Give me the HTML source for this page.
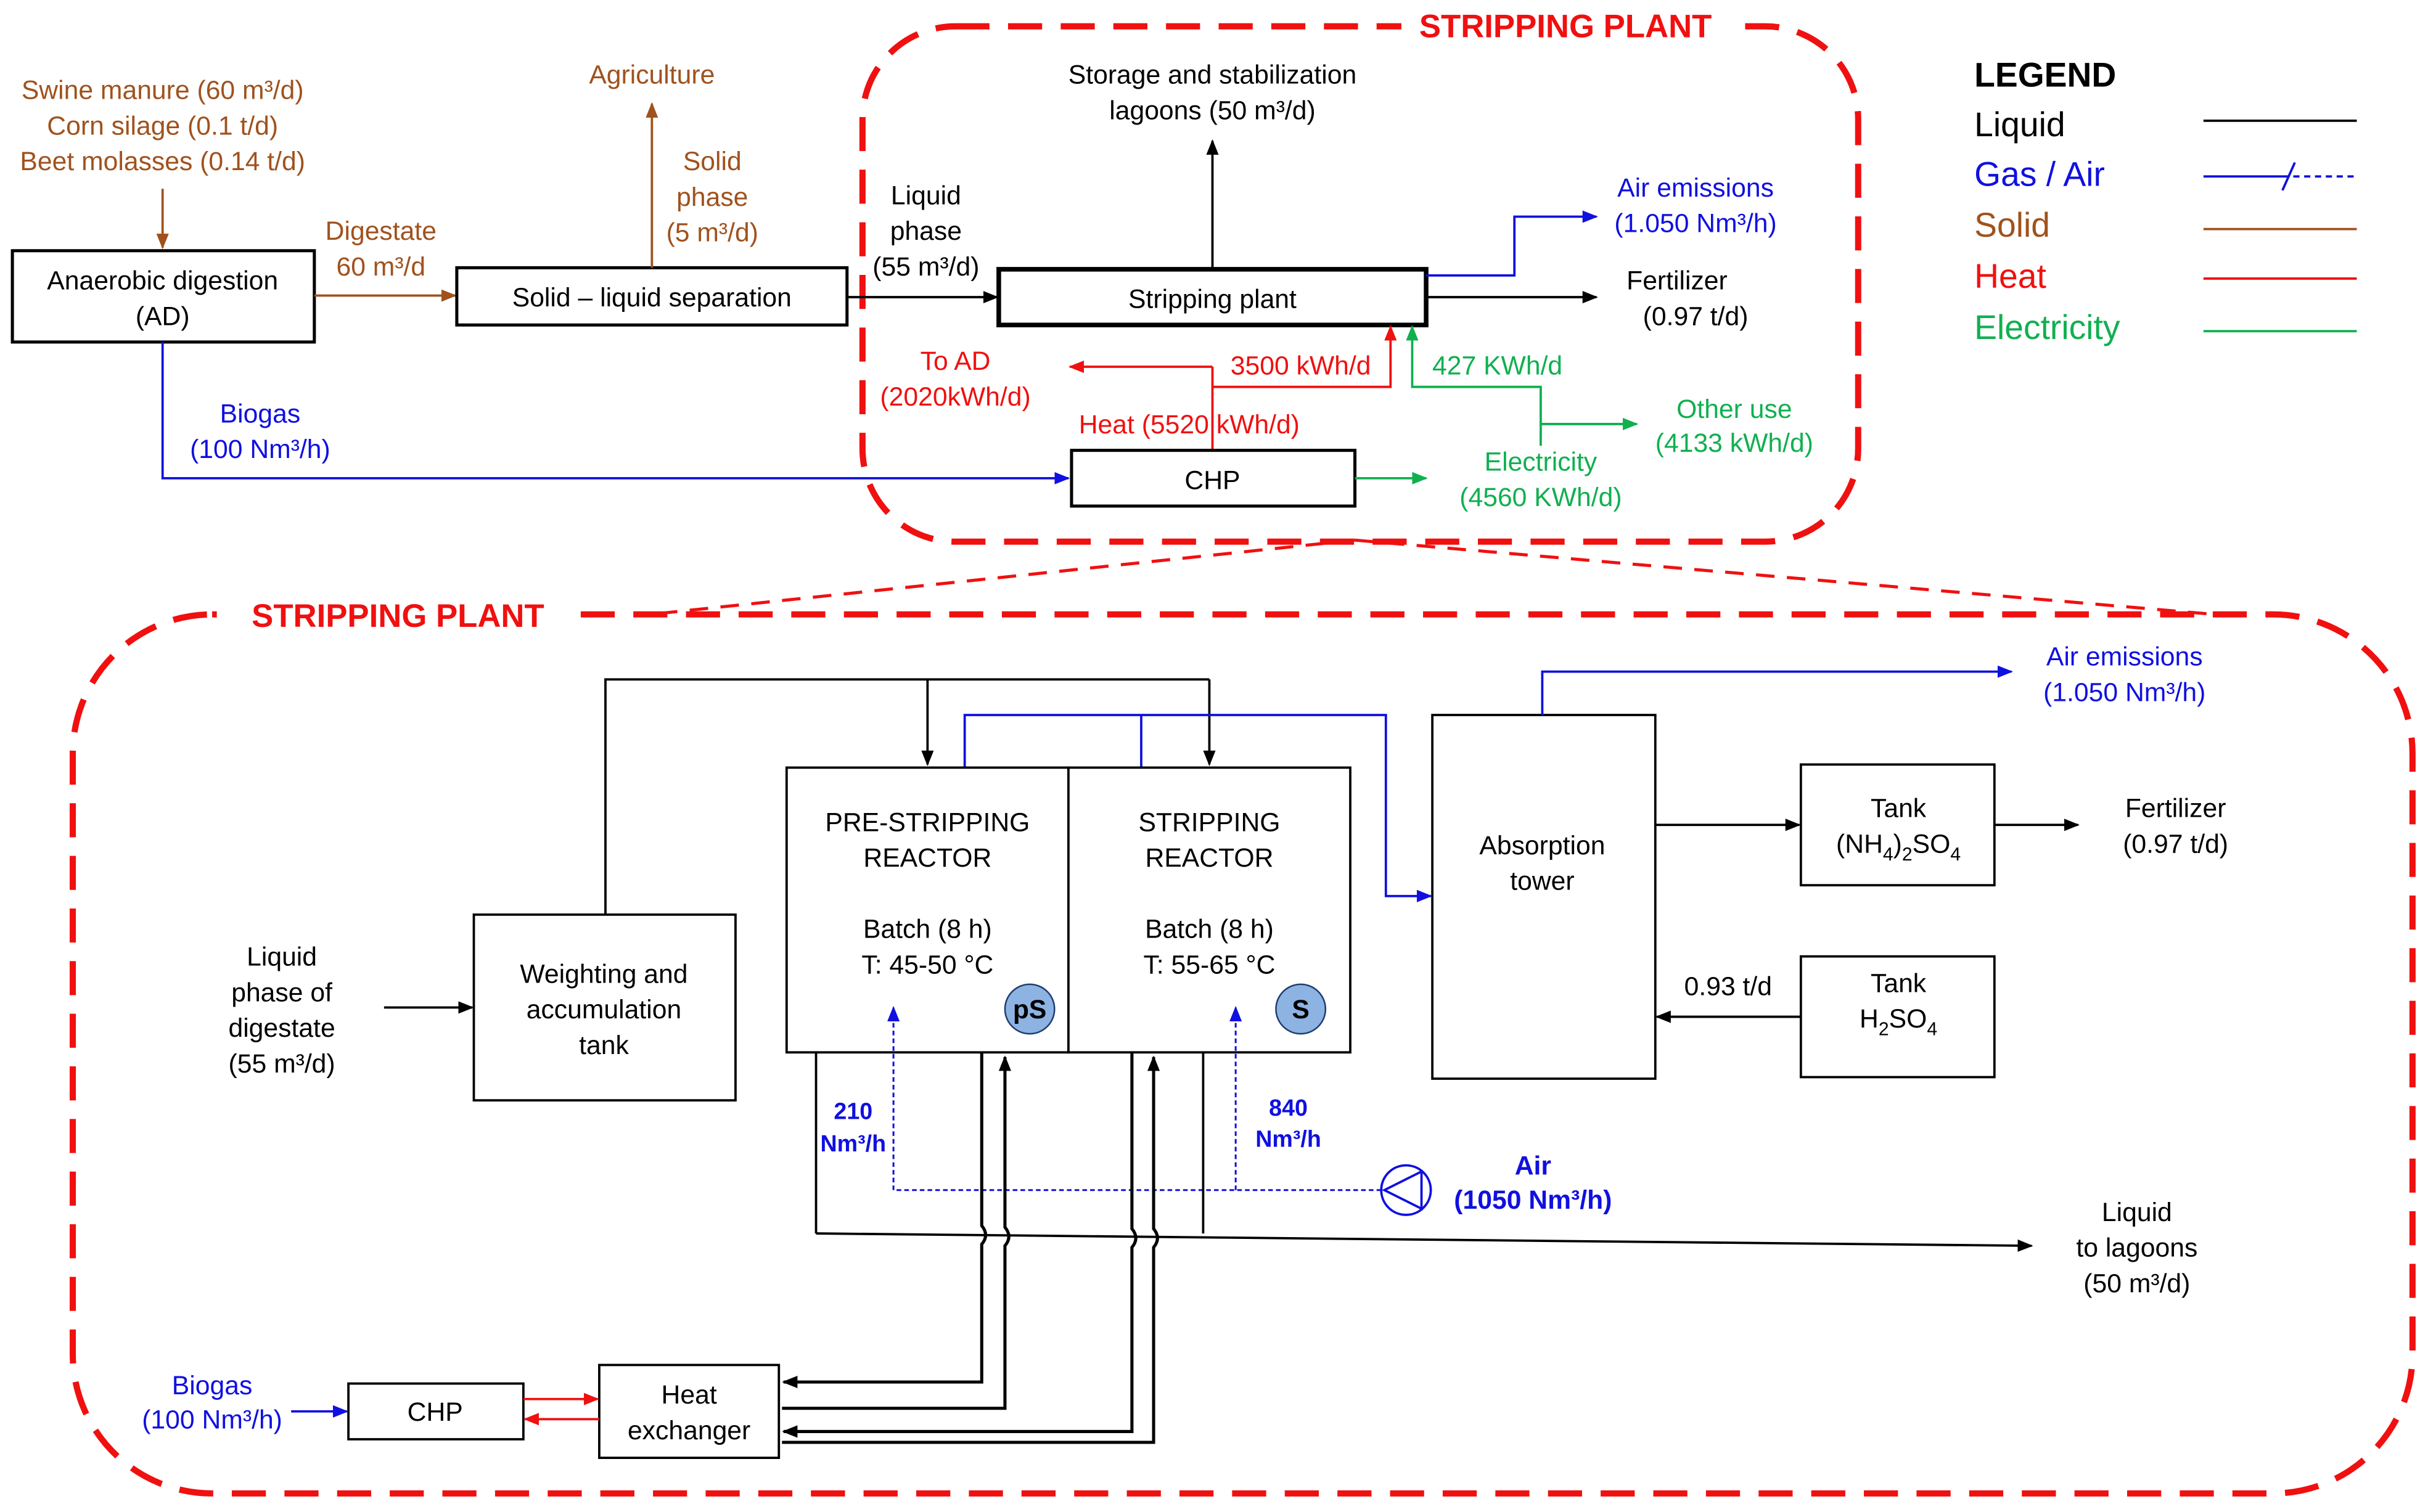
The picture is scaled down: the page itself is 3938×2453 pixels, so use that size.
<!DOCTYPE html>
<html><head><meta charset="utf-8"><style>
html,body{margin:0;padding:0;background:#fff;}
svg{display:block;}
text{font-family:"Liberation Sans",Arial,sans-serif;font-size:17px;text-anchor:middle;}
.br{fill:#a0521d}.bl{fill:#1010e0}.rd{fill:#f01010}.gr{fill:#10b050}
</style></head><body>
<svg width="3938" height="2453" viewBox="0 0 1568 977" preserveAspectRatio="none" xmlns="http://www.w3.org/2000/svg">
<defs>
<marker id="ak" markerWidth="10" markerHeight="10" refX="9" refY="5" orient="auto" markerUnits="userSpaceOnUse"><path d="M0,1 L10,5 L0,9z" fill="#000"/></marker>
<marker id="ab" markerWidth="10" markerHeight="10" refX="9" refY="5" orient="auto" markerUnits="userSpaceOnUse"><path d="M0,1 L10,5 L0,9z" fill="#1010e0"/></marker>
<marker id="an" markerWidth="10" markerHeight="10" refX="9" refY="5" orient="auto" markerUnits="userSpaceOnUse"><path d="M0,1 L10,5 L0,9z" fill="#a0521d"/></marker>
<marker id="ar" markerWidth="10" markerHeight="10" refX="9" refY="5" orient="auto" markerUnits="userSpaceOnUse"><path d="M0,1 L10,5 L0,9z" fill="#f01010"/></marker>
<marker id="ag" markerWidth="10" markerHeight="10" refX="9" refY="5" orient="auto" markerUnits="userSpaceOnUse"><path d="M0,1 L10,5 L0,9z" fill="#10b050"/></marker>
</defs>
<rect width="1568" height="977" fill="#fff"/>

<rect x="557" y="17" width="643" height="333" rx="60" fill="none" stroke="#f01010" stroke-width="4" stroke-dasharray="22,12"/>
<rect x="47" y="397" width="1511" height="568" rx="90" fill="none" stroke="#f01010" stroke-width="4" stroke-dasharray="22,12"/>
<line x1="875" y1="349" x2="420" y2="397" stroke="#f01010" stroke-width="2" stroke-dasharray="12,8"/>
<line x1="875" y1="349" x2="1430" y2="397" stroke="#f01010" stroke-width="2" stroke-dasharray="12,8"/>
<rect x="905" y="4" width="215" height="26" fill="#fff"/>
<text x="1011" y="24" style="font-weight:bold;font-size:21px" class="rd">STRIPPING PLANT</text>
<rect x="140" y="384" width="235" height="28" fill="#fff"/>
<text x="257" y="405" style="font-weight:bold;font-size:21px" class="rd">STRIPPING PLANT</text>

<text x="105" y="64" class="br">Swine manure (60 m³/d)</text>
<text x="105" y="87" class="br">Corn silage (0.1 t/d)</text>
<text x="105" y="110" class="br">Beet molasses (0.14 t/d)</text>
<line x1="105" y1="122" x2="105" y2="160" stroke="#a0521d" stroke-width="1.5" marker-end="url(#an)"/>
<rect x="8" y="162" width="195" height="59" fill="#fff" stroke="#000" stroke-width="2"/>
<text x="105" y="187">Anaerobic digestion</text>
<text x="105" y="210">(AD)</text>
<text x="246" y="155" class="br">Digestate</text>
<text x="246" y="178" class="br">60 m³/d</text>
<line x1="203" y1="191" x2="294" y2="191" stroke="#a0521d" stroke-width="1.5" marker-end="url(#an)"/>
<rect x="295" y="173" width="252" height="37" fill="#fff" stroke="#000" stroke-width="2"/>
<text x="421" y="198">Solid – liquid separation</text>
<line x1="421" y1="173" x2="421" y2="67" stroke="#a0521d" stroke-width="1.5" marker-end="url(#an)"/>
<text x="421" y="54" class="br">Agriculture</text>
<text x="460" y="110" class="br">Solid</text>
<text x="460" y="133" class="br">phase</text>
<text x="460" y="156" class="br">(5 m³/d)</text>
<text x="598" y="132">Liquid</text>
<text x="598" y="155">phase</text>
<text x="598" y="178">(55 m³/d)</text>
<line x1="547" y1="192" x2="644" y2="192" stroke="#000" stroke-width="1.5" marker-end="url(#ak)"/>
<rect x="645" y="174" width="276" height="36" fill="#fff" stroke="#000" stroke-width="3"/>
<text x="783" y="199">Stripping plant</text>
<line x1="783" y1="174" x2="783" y2="91" stroke="#000" stroke-width="1.5" marker-end="url(#ak)"/>
<text x="783" y="54">Storage and stabilization</text>
<text x="783" y="77">lagoons (50 m³/d)</text>
<polyline points="921,178 978,178 978,140 1031,140" fill="none" stroke="#1010e0" stroke-width="1.5" marker-end="url(#ab)"/>
<text x="1095" y="127" class="bl">Air emissions</text>
<text x="1095" y="150" class="bl">(1.050 Nm³/h)</text>
<line x1="921" y1="192" x2="1031" y2="192" stroke="#000" stroke-width="1.5" marker-end="url(#ak)"/>
<text x="1083" y="187">Fertilizer</text>
<text x="1095" y="210">(0.97 t/d)</text>
<line x1="783" y1="291" x2="783" y2="237" stroke="#f01010" stroke-width="1.5"/>
<line x1="783" y1="237" x2="691" y2="237" stroke="#f01010" stroke-width="1.5" marker-end="url(#ar)"/>
<polyline points="783,250 898,250 898,211" fill="none" stroke="#f01010" stroke-width="1.5" marker-end="url(#ar)"/>
<text x="840" y="242" class="rd">3500 kWh/d</text>
<text x="617" y="239" class="rd">To AD</text>
<text x="617" y="262" class="rd">(2020kWh/d)</text>
<text x="768" y="280" class="rd">Heat (5520 kWh/d)</text>
<rect x="692" y="291" width="183" height="36" fill="#fff" stroke="#000" stroke-width="2"/>
<text x="783" y="316">CHP</text>
<line x1="875" y1="309" x2="921" y2="309" stroke="#10b050" stroke-width="1.5" marker-end="url(#ag)"/>
<polyline points="995,288 995,250 912,250 912,211" fill="none" stroke="#10b050" stroke-width="1.5" marker-end="url(#ag)"/>
<line x1="995" y1="274" x2="1057" y2="274" stroke="#10b050" stroke-width="1.5" marker-end="url(#ag)"/>
<text x="967" y="242" class="gr">427 KWh/d</text>
<text x="1120" y="270" class="gr">Other use</text>
<text x="1120" y="292" class="gr">(4133 kWh/d)</text>
<text x="995" y="304" class="gr">Electricity</text>
<text x="995" y="327" class="gr">(4560 KWh/d)</text>
<polyline points="105,221 105,309 690,309" fill="none" stroke="#1010e0" stroke-width="1.5" marker-end="url(#ab)"/>
<text x="168" y="273" class="bl">Biogas</text>
<text x="168" y="296" class="bl">(100 Nm³/h)</text>

<text x="1275" y="56" style="text-anchor:start;font-weight:bold;font-size:22px">LEGEND</text>
<text x="1275" y="88" style="text-anchor:start;font-size:22px">Liquid</text>
<text x="1275" y="120" style="text-anchor:start;font-size:22px" class="bl">Gas / Air</text>
<text x="1275" y="153" style="text-anchor:start;font-size:22px" class="br">Solid</text>
<text x="1275" y="186" style="text-anchor:start;font-size:22px" class="rd">Heat</text>
<text x="1275" y="219" style="text-anchor:start;font-size:22px" class="gr">Electricity</text>
<line x1="1423" y1="78" x2="1522" y2="78" stroke="#000" stroke-width="1.5"/>
<line x1="1423" y1="114" x2="1474" y2="114" stroke="#1010e0" stroke-width="1.5"/>
<line x1="1474" y1="114" x2="1522" y2="114" stroke="#1010e0" stroke-width="1.5" stroke-dasharray="4,3"/>
<line x1="1474" y1="123" x2="1482" y2="105" stroke="#1010e0" stroke-width="1.5"/>
<line x1="1423" y1="148" x2="1522" y2="148" stroke="#a0521d" stroke-width="1.5"/>
<line x1="1423" y1="180" x2="1522" y2="180" stroke="#f01010" stroke-width="1.5"/>
<line x1="1423" y1="214" x2="1522" y2="214" stroke="#10b050" stroke-width="1.5"/>

<text x="182" y="624">Liquid</text>
<text x="182" y="647">phase of</text>
<text x="182" y="670">digestate</text>
<text x="182" y="693">(55 m³/d)</text>
<line x1="248" y1="651" x2="305" y2="651" stroke="#000" stroke-width="1.5" marker-end="url(#ak)"/>
<rect x="306" y="591" width="169" height="120" fill="#fff" stroke="#000" stroke-width="1.5"/>
<text x="390" y="635">Weighting and</text>
<text x="390" y="658">accumulation</text>
<text x="390" y="681">tank</text>
<polyline points="391,591 391,439 781,439" fill="none" stroke="#000" stroke-width="1.5"/>
<line x1="599" y1="439" x2="599" y2="494" stroke="#000" stroke-width="1.5" marker-end="url(#ak)"/>
<line x1="781" y1="439" x2="781" y2="494" stroke="#000" stroke-width="1.5" marker-end="url(#ak)"/>
<polyline points="623,496 623,462 895,462 895,579 924,579" fill="none" stroke="#1010e0" stroke-width="1.5" marker-end="url(#ab)"/>
<line x1="737" y1="496" x2="737" y2="462" stroke="#1010e0" stroke-width="1.5"/>
<rect x="508" y="496" width="182" height="184" fill="#fff" stroke="#000" stroke-width="1.5"/>
<rect x="690" y="496" width="182" height="184" fill="#fff" stroke="#000" stroke-width="1.5"/>
<text x="599" y="537">PRE-STRIPPING</text>
<text x="599" y="560">REACTOR</text>
<text x="599" y="606">Batch (8 h)</text>
<text x="599" y="629">T: 45-50 °C</text>
<text x="781" y="537">STRIPPING</text>
<text x="781" y="560">REACTOR</text>
<text x="781" y="606">Batch (8 h)</text>
<text x="781" y="629">T: 55-65 °C</text>
<circle cx="665" cy="652" r="16" fill="#8db3e2" stroke="#1f3c70" stroke-width="1"/>
<text x="665" y="658" style="font-weight:bold">pS</text>
<circle cx="840" cy="652" r="16" fill="#8db3e2" stroke="#1f3c70" stroke-width="1"/>
<text x="840" y="658" style="font-weight:bold">S</text>
<rect x="925" y="462" width="144" height="235" fill="#fff" stroke="#000" stroke-width="1.5"/>
<text x="996" y="552">Absorption</text>
<text x="996" y="575">tower</text>
<polyline points="996,462 996,434 1299,434" fill="none" stroke="#1010e0" stroke-width="1.5" marker-end="url(#ab)"/>
<text x="1372" y="430" class="bl">Air emissions</text>
<text x="1372" y="453" class="bl">(1.050 Nm³/h)</text>
<line x1="1069" y1="533" x2="1162" y2="533" stroke="#000" stroke-width="1.5" marker-end="url(#ak)"/>
<rect x="1163" y="494" width="125" height="78" fill="#fff" stroke="#000" stroke-width="1.5"/>
<text x="1226" y="528">Tank</text>
<text x="1226" y="551">(NH<tspan font-size="12" dy="5">4</tspan><tspan dy="-5">)</tspan><tspan font-size="12" dy="5">2</tspan><tspan dy="-5">SO</tspan><tspan font-size="12" dy="5">4</tspan></text>
<line x1="1288" y1="533" x2="1342" y2="533" stroke="#000" stroke-width="1.5" marker-end="url(#ak)"/>
<text x="1405" y="528">Fertilizer</text>
<text x="1405" y="551">(0.97 t/d)</text>
<rect x="1163" y="618" width="125" height="78" fill="#fff" stroke="#000" stroke-width="1.5"/>
<text x="1226" y="641">Tank</text>
<text x="1226" y="664">H<tspan font-size="12" dy="5">2</tspan><tspan dy="-5">SO</tspan><tspan font-size="12" dy="5">4</tspan></text>
<line x1="1163" y1="657" x2="1070" y2="657" stroke="#000" stroke-width="1.5" marker-end="url(#ak)"/>
<text x="1116" y="643">0.93 t/d</text>

<circle cx="908" cy="769" r="16" fill="#fff" stroke="#1010e0" stroke-width="1.5"/>
<path d="M894,769 L918,757 L918,781 z" fill="none" stroke="#1010e0" stroke-width="1.5"/>
<polyline points="892,769 577,769 577,651" fill="none" stroke="#1010e0" stroke-width="1.2" stroke-dasharray="3,2" marker-end="url(#ab)"/>
<line x1="798" y1="769" x2="798" y2="651" stroke="#1010e0" stroke-width="1.2" stroke-dasharray="3,2" marker-end="url(#ab)"/>
<text x="551" y="723" class="bl" style="font-weight:bold;font-size:15px">210</text>
<text x="551" y="744" class="bl" style="font-weight:bold;font-size:15px">Nm³/h</text>
<text x="832" y="721" class="bl" style="font-weight:bold;font-size:15px">840</text>
<text x="832" y="741" class="bl" style="font-weight:bold;font-size:15px">Nm³/h</text>
<text x="990" y="759" class="bl" style="font-weight:bold">Air</text>
<text x="990" y="781" class="bl" style="font-weight:bold">(1050 Nm³/h)</text>

<line x1="527" y1="680" x2="527" y2="797" stroke="#000" stroke-width="1.5"/>
<line x1="777" y1="680" x2="777" y2="797" stroke="#000" stroke-width="1.5"/>
<line x1="527" y1="797" x2="1312" y2="805" stroke="#000" stroke-width="1.5" marker-end="url(#ak)"/>
<text x="1380" y="789">Liquid</text>
<text x="1380" y="812">to lagoons</text>
<text x="1380" y="835">(50 m³/d)</text>

<g fill="none" stroke="#000" stroke-width="2">
<path d="M634,680 L634,792 q5,6 0,12 L634,893 L506,893" marker-end="url(#ak)"/>
<path d="M505,910 L649,910 L649,805 q5,-6 0,-12 L649,683" marker-end="url(#ak)"/>
<path d="M731,680 L731,794 q5,6 0,12 L731,925 L506,925" marker-end="url(#ak)"/>
<path d="M505,932 L745,932 L745,806 q5,-6 0,-12 L745,683" marker-end="url(#ak)"/>
</g>
<rect x="387" y="882" width="116" height="60" fill="#fff" stroke="#000" stroke-width="1.5"/>
<text x="445" y="907">Heat</text>
<text x="445" y="930">exchanger</text>
<rect x="225" y="894" width="113" height="36" fill="#fff" stroke="#000" stroke-width="1.5"/>
<text x="281" y="918">CHP</text>
<line x1="338" y1="904" x2="386" y2="904" stroke="#f01010" stroke-width="1.5" marker-end="url(#ar)"/>
<line x1="387" y1="917" x2="339" y2="917" stroke="#f01010" stroke-width="1.5" marker-end="url(#ar)"/>
<text x="137" y="901" class="bl">Biogas</text>
<text x="137" y="923" class="bl">(100 Nm³/h)</text>
<line x1="188" y1="912" x2="224" y2="912" stroke="#1010e0" stroke-width="1.5" marker-end="url(#ab)"/>
</svg>
</body></html>
